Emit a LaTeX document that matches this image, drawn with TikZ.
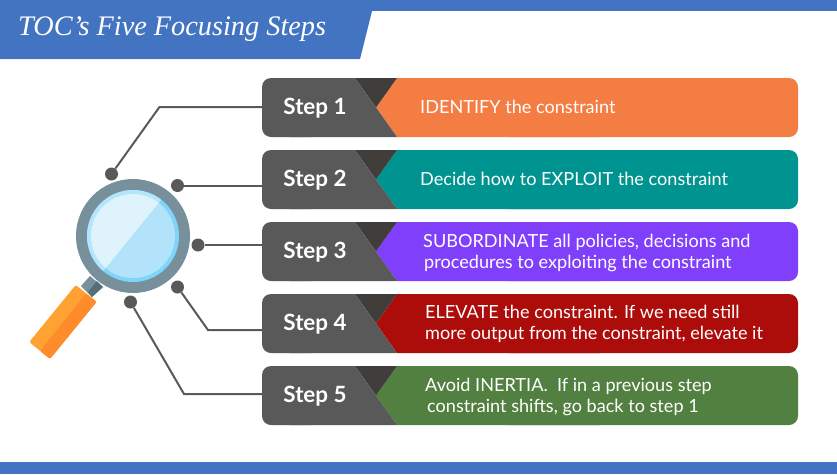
\documentclass[tikz,border=0pt]{standalone}
\usepackage{fontspec}
\setmainfont{Lato}
\newfontfamily\titlefont{Liberation Serif}
\definecolor{bandblue}{HTML}{4374C1}
\definecolor{stepgrey}{HTML}{595959}
\definecolor{stepdark}{HTML}{403D3A}
\definecolor{idorange}{HTML}{F47D43}
\definecolor{exteal}{HTML}{009490}
\definecolor{subpurple}{HTML}{7F3FFB}
\definecolor{elred}{HTML}{AD0D0A}
\definecolor{ingreen}{HTML}{528040}
\definecolor{ringgrey}{HTML}{78909C}
\definecolor{neckdark}{HTML}{546E7A}
\definecolor{lensedge}{HTML}{7FD4FB}
\definecolor{lensedgelt}{HTML}{B3E5FC}
\definecolor{lens}{HTML}{B3E3FA}
\definecolor{lenslt}{HTML}{DFF3FD}
\definecolor{handlelt}{HTML}{FFA233}
\definecolor{handledk}{HTML}{FF8C2B}
\tikzset{
  steplabel/.style={text=white, font=\fontsize{22.4}{22.4}\selectfont\bfseries, minimum width=106pt, minimum height=59pt, inner sep=0pt},
  steptext/.style={text=white, anchor=west, align=left, inner sep=0pt, font=\fontsize{18.1}{21.5}\selectfont},
  pin/.style={circle, fill=stepgrey, minimum size=13pt, inner sep=0pt},
  wire/.style={draw=stepgrey, line width=2pt},
}
\begin{document}
\begin{tikzpicture}[x=1pt, y=-1pt]
\useasboundingbox (0,0) rectangle (837,474);
% bands and title
\fill[bandblue] (0,0) rectangle (837,11);
\fill[bandblue] (0,462) rectangle (837,474);
\fill[bandblue] (0,0)--(372,0)--(372,11)--(360,59)--(0,59)--cycle;
\node[text=white, anchor=west, inner sep=0pt, font=\titlefont\itshape\fontsize{28.3}{28.3}\selectfont] (title) at (18,29) {TOC’s Five Focusing Steps};
% the five bars
\foreach \y/\c in {78/idorange, 150/exteal, 222/subpurple, 294/elred, 366/ingreen}{
  \fill[\c, rounded corners=9pt] (500,\y) rectangle (798,\y+59);
  \fill[\c] (397,\y)--(600,\y)--(600,\y+59)--(397,\y+59)--(376,\y+29.5)--cycle;
  \fill[stepdark] (355,\y)--(397,\y)--(376,\y+29.5)--cycle;
  \fill[stepgrey, rounded corners=9pt] (262,\y) rectangle (320,\y+59);
  \fill[stepgrey] (290,\y)--(355,\y)--(397,\y+59)--(290,\y+59)--cycle;
}
\node[steplabel] (s1) at (315,108) {Step 1};
\node[steplabel] (s2) at (315,180) {Step 2};
\node[steplabel] (s3) at (315,252) {Step 3};
\node[steplabel] (s4) at (315,324) {Step 4};
\node[steplabel] (s5) at (315,396) {Step 5};
\node[steptext] (t1) at (420,107) {IDENTIFY the constraint};
\node[steptext] (t2) at (420,179) {Decide how to EXPLOIT the constraint};
\node[steptext] (t3) at (423,253) {SUBORDINATE all policies, decisions and\\\hspace{1pt}procedures to exploiting the constraint};
\node[steptext] (t4) at (425,324) {ELEVATE the constraint. If we need still\\more output from the constraint, elevate it};
\node[steptext] (t5) at (425,397) {Avoid INERTIA.\ \ If in a previous step\\\hspace{2pt}constraint shifts, go back to step 1};
% magnifier
\fill[ringgrey] (90,276)--(81,286)--(92,297)--(103,287)--cycle;
\fill[neckdark] (97,281)--(88,292)--(92,297)--(103,287)--cycle;
\fill[handlelt, rounded corners=2pt] (75.7,285)--(96.7,301.7)--(50,359)--(29.3,342)--cycle;
\fill[handledk, rounded corners=2pt] (86,293.5)--(96.7,301.7)--(50,359)--(40,351)--cycle;
\fill[ringgrey] (133,236) circle (57);
\fill[lensedge] (133,236) circle (46);
\begin{scope}
\clip (133,236) circle (46);
\fill[lensedgelt] (165,195)--(100,275)--(60,275)--(60,170)--(165,170)--cycle;
\end{scope}
\fill[lens] (133,236) circle (42);
\begin{scope}
\clip (133,236) circle (42);
\fill[lenslt] (165,195)--(100,275)--(60,275)--(60,170)--(165,170)--cycle;
\end{scope}
% pins and wires
\node[pin] (d1) at (111.5,174) {};
\node[pin] (d2) at (177.5,185.5) {};
\node[pin] (d3) at (198,245) {};
\node[pin] (d4) at (177.5,287) {};
\node[pin] (d5) at (130.5,302) {};
\coordinate (c1) at (159.5,107);
\coordinate (c4) at (208,330);
\coordinate (c5) at (184,394);
\draw[wire] (d1)--(c1)--(c1-|s1.west);
\draw[wire] (d2)--(d2-|s2.west);
\draw[wire] (d3)--(d3-|s3.west);
\draw[wire] (d4)--(c4)--(c4-|s4.west);
\draw[wire] (d5)--(c5)--(c5-|s5.west);
\end{tikzpicture}
\end{document}
